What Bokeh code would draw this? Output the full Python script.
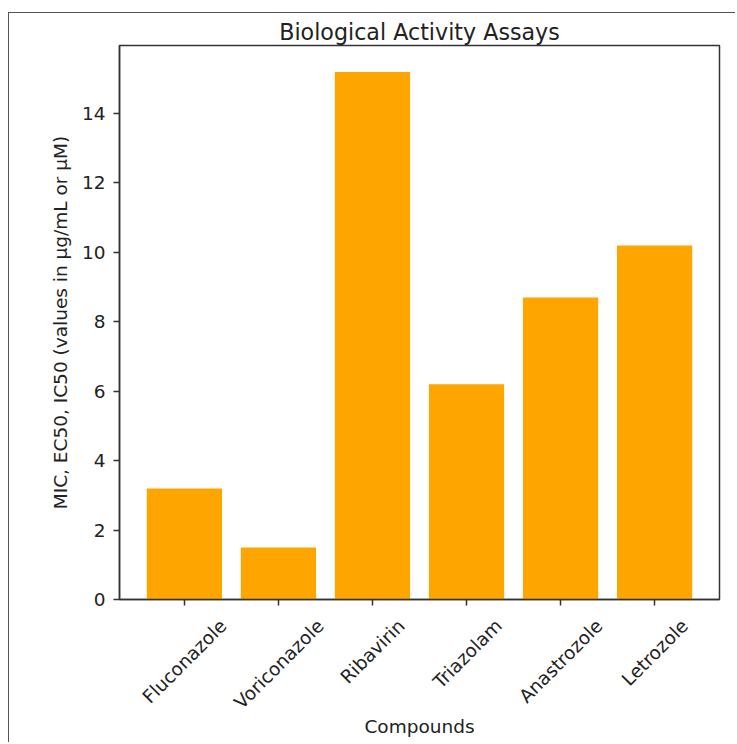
import math
from bokeh.plotting import figure
from bokeh.models import Range1d, ColumnDataSource, FixedTicker
from bokeh.embed import file_html
from bokeh.resources import INLINE

compounds = ["Fluconazole", "Voriconazole", "Ribavirin", "Triazolam", "Anastrozole", "Letrozole"]
activity = [3.2, 1.5, 15.2, 6.2, 8.7, 10.2]
y_ticks = [0, 2, 4, 6, 8, 10, 12, 14]

LABEL_PX = 18.5
TITLE_PX = 22.2
TICK_LEN = 6
W, H = 727, 730
MB_L, MB_R, MB_T, MB_B = 110, 17, 32, 144
X_PAD = 0.69

# DejaVu Sans advance widths (units per em = 2048), used to centre rotated labels on ticks
_ADV = {"A": 1401, "F": 1178, "L": 1141, "R": 1423, "T": 1251, "V": 1401, "a": 1255, "b": 1300,
        "c": 1126, "e": 1260, "i": 569, "l": 569, "m": 1995, "n": 1298, "o": 1253, "r": 842,
        "s": 1067, "t": 803, "u": 1298, "v": 1212, "z": 1075}


def text_len(s):
    return sum(_ADV.get(ch, 1200) for ch in s) / 2048.0 * LABEL_PX


xs = list(range(len(compounds)))
x_start, x_end = -X_PAD, len(compounds) - 1 + X_PAD
px_per_unit = (W - MB_L - MB_R) / (x_end - x_start)
# Bokeh anchors a 45-degree label at its right end; shift so the label is centred on its tick
label_pos = [round(xi + text_len(c) / (2 * math.sqrt(2)) / px_per_unit, 4) for xi, c in zip(xs, compounds)]

src = ColumnDataSource(dict(x=xs, top=activity))

p = figure(width=W, height=H, output_backend="svg", toolbar_location=None,
           title="Biological Activity Assays",
           x_range=Range1d(x_start, x_end),
           y_range=Range1d(0, max(activity) * 1.05),
           min_border_left=MB_L, min_border_right=MB_R, min_border_top=MB_T, min_border_bottom=MB_B)
p.styles = {"margin": "12px 0px 0px 8px", "border-top": "1px solid #555", "border-left": "1px solid #555"}

p.vbar(x="x", top="top", width=0.8, source=src, fill_color="#FFA500", line_color=None)

p.title.align = "center"
p.title.text_font = "DejaVu Sans"
p.title.text_font_size = f"{TITLE_PX}px"
p.title.text_font_style = "normal"
p.title.text_color = "#222222"
p.title.standoff = 2

p.xgrid.visible = False
p.ygrid.visible = False
p.outline_line_color = "#333333"
p.outline_line_width = 1.5

p.xaxis.ticker = FixedTicker(ticks=label_pos, minor_ticks=xs)
p.xaxis.major_label_overrides = {pos: c for pos, c in zip(label_pos, compounds)}
p.xaxis.major_label_orientation = math.pi / 4
p.yaxis.ticker = FixedTicker(ticks=y_ticks)

for ax in (p.xaxis[0], p.yaxis[0]):
    ax.axis_line_color = "#333333"
    ax.axis_line_width = 1.5
    ax.major_tick_line_color = "#333333"
    ax.major_tick_line_width = 1.5
    ax.major_tick_in = 0
    ax.major_tick_out = TICK_LEN
    ax.minor_tick_line_color = None
    ax.major_label_text_font = "DejaVu Sans"
    ax.major_label_text_font_size = f"{LABEL_PX}px"
    ax.major_label_text_color = "#222222"
    ax.axis_label_text_font = "DejaVu Sans"
    ax.axis_label_text_font_size = f"{LABEL_PX}px"
    ax.axis_label_text_font_style = "normal"
    ax.axis_label_text_color = "#222222"

# x axis: real ticks drawn as minor ticks at the bar centres, labels on (invisible) major ticks
p.xaxis.major_tick_line_color = None
p.xaxis.minor_tick_line_color = "#333333"
p.xaxis.minor_tick_line_width = 1.5
p.xaxis.minor_tick_in = 0
p.xaxis.minor_tick_out = TICK_LEN
p.xaxis.major_label_standoff = 17

p.yaxis.major_label_standoff = 8
p.yaxis.axis_label_standoff = 8
p.xaxis.axis_label_standoff = -7
p.xaxis.axis_label = "Compounds"
p.yaxis.axis_label = "MIC, EC50, IC50 (values in µg/mL or µM)"

open("out.html", "w").write(file_html(p, INLINE))
